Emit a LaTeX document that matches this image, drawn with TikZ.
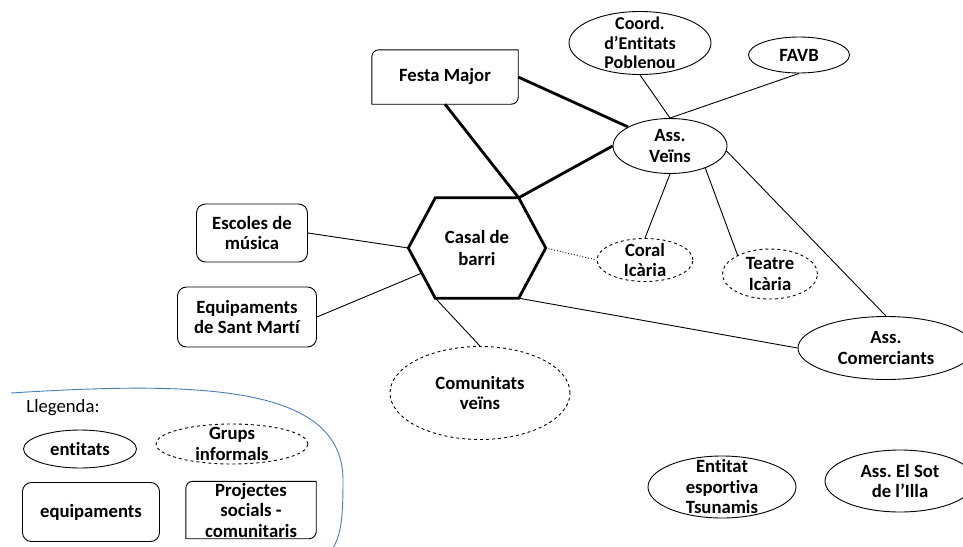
\documentclass[tikz,border=0pt]{standalone}
\usepackage{fontspec}
\setmainfont[Ligatures={NoCommon}]{Carlito}
\usetikzlibrary{shapes.geometric, calc}

\definecolor{legendblue}{RGB}{74,126,187}

\tikzset{
  every node/.style={font=\bfseries\fontsize{18.7}{20.5}\selectfont, align=center, inner sep=-30pt},
  ent/.style={draw, ellipse, line width=0.9pt},
  grup/.style={ent, dashed},
  equip/.style={draw, rectangle, rounded corners=9pt, line width=0.9pt},
  thinline/.style={line width=0.9pt},
  thickline/.style={line width=2.8pt},
}

\begin{document}
\frenchspacing
\begin{tikzpicture}[x=1pt, y=1pt]
\useasboundingbox (0,0) rectangle (963,-546);

% nodes
\node[ent, minimum width=142, minimum height=63, font=\bfseries\fontsize{18}{19.5}\selectfont] (coord) at (640,-43) {Coord.\\d'Entitats\\Poblenou};
\node[ent, minimum width=101, minimum height=36] (favb) at (799,-55) {FAVB};
\node[ent, minimum width=114, minimum height=55] (veins) at (670,-146) {Ass.\\Veïns};
\node[minimum width=146, minimum height=54] (fm) at (445,-77) {Festa Major};
\node[minimum width=137, minimum height=100, font=\bfseries\fontsize{18.7}{22.8}\selectfont] (casal) at (477,-248) {Casal de\\barri};
\node[equip, minimum width=111, minimum height=58] (escoles) at (252,-233) {Escoles de\\música};
\node[equip, minimum width=139, minimum height=60] (equip) at (247,-317) {Equipaments\\de Sant Martí};
\node[grup, minimum width=180, minimum height=93] (comun) at (480,-393) {Comunitats\\veïns};
\node[grup, minimum width=96, minimum height=43] (coral) at (645,-260) {Coral\\Icària};
\node[grup, minimum width=95, minimum height=50] (teatre) at (770,-274) {Teatre\\Icària};
\node[ent, minimum width=176, minimum height=63] (comerc) at (886,-348) {Ass.\\Comerciants};
\node[ent, minimum width=148, minimum height=62] (tsun) at (722,-487) {Entitat\\esportiva\\Tsunamis};
\node[ent, minimum width=150, minimum height=62] (sot) at (900,-481) {Ass. El Sot\\de l'Illa};

% festa major box
\draw[thinline] (fm.south west) -- ([yshift=-7]fm.north west) arc[start angle=180, end angle=90, radius=7pt]
  -- (fm.north east) -- ([yshift=7]fm.south east) arc[start angle=0, end angle=-90, radius=7pt] -- cycle;

% hexagon
\coordinate (cb-w) at (casal.west);
\coordinate (cb-nw) at ([xshift=27]casal.north west);
\coordinate (cb-ne) at ([xshift=-27]casal.north east);
\coordinate (cb-e) at (casal.east);
\coordinate (cb-se) at ([xshift=-27]casal.south east);
\coordinate (cb-sw) at ([xshift=27]casal.south west);
\draw[thickline, line join=miter] (cb-w) -- (cb-nw) -- (cb-ne) -- (cb-e) -- (cb-se) -- (cb-sw) -- cycle;

% links
\draw[thickline] (fm.south) -- (cb-ne);
\draw[thickline] (fm.east) -- (veins);
\draw[thickline] (cb-ne) -- (veins.west);
\draw[thinline] (coord.south) -- (veins.north);
\draw[thinline] (favb.south) -- (veins.north);
\draw[thinline] (veins.south) -- (coral.north);
\draw[thinline] (veins.-32) -- (teatre.150);
\draw[thinline] (veins.-5) -- (comerc.north);
\draw[thinline, dotted] (cb-e) -- (coral.west);
\draw[thinline] (cb-se) -- (comerc.west);
\draw[thinline] (escoles.east) -- (cb-w);
\draw[thinline] (equip.east) -- ($(cb-w)!0.5!(cb-sw)$);
\draw[thinline] (cb-sw) -- (comun.north);

% legend
\draw[legendblue, line width=0.9pt] (11,-393) .. controls (200,-381) and (343,-385) .. (343,-480)
  .. controls (343,-520) and (341,-538) .. (330,-552);
\node[font=\mdseries\fontsize{18.7}{20.5}\selectfont] (lleg) at (63,-408) {Llegenda:};
\node[ent, minimum width=113, minimum height=38] (lg-ent) at (80,-449) {entitats};
\node[grup, minimum width=152, minimum height=40] (lg-grup) at (232,-444) {Grups\\informals};
\node[equip, minimum width=137, minimum height=59] (lg-equip) at (91,-512) {equipaments};
\node[minimum width=130, minimum height=57] (lg-proj) at (251,-510) {Projectes\\socials -\\comunitaris};
\draw[thinline] (lg-proj.south west) -- ([yshift=-7]lg-proj.north west) arc[start angle=180, end angle=90, radius=7pt]
  -- (lg-proj.north east) -- ([yshift=7]lg-proj.south east) arc[start angle=0, end angle=-90, radius=7pt] -- cycle;
\end{tikzpicture}
\end{document}
